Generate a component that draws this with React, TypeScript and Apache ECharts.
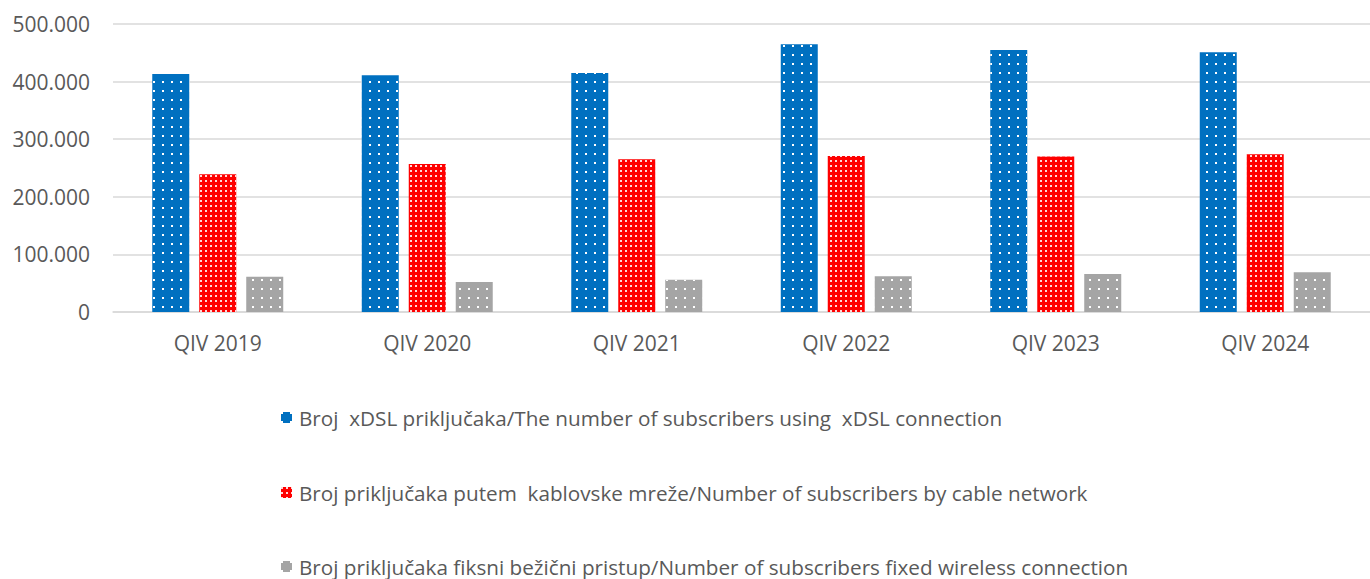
import React, { useEffect, useRef } from "react";
import * as echarts from "echarts";

const categories = ["QIV 2019", "QIV 2020", "QIV 2021", "QIV 2022", "QIV 2023", "QIV 2024"];
const xdsl = [413000, 411000, 415000, 465000, 455000, 451000];
const cable = [239000, 257000, 265000, 271000, 270000, 274000];
const wireless = [61000, 52000, 56000, 62000, 66000, 69000];
const seriesNames = [
  "Broj  xDSL priključaka/The number of subscribers using  xDSL connection",
  "Broj priključaka putem  kablovske mreže/Number of subscribers by cable network",
  "Broj priključaka fiksni bežični pristup/Number of subscribers fixed wireless connection",
];

const FONT = "Open Sans";
const TEXT = "#595959";
const legendTops = [407, 482, 556];

export default function App() {
  const ref = useRef<HTMLDivElement>(null);
  useEffect(() => {
    const chart = echarts.init(ref.current!, null, { renderer: "svg" });
    const sparse = {
      symbol: "rect",
      symbolSize: 1,
      color: "#ffffff",
      dashArrayX: [2, 6.5],
      dashArrayY: [2, 6.5],
    };
    const dense = {
      symbol: "rect",
      symbolSize: 1,
      color: "rgba(255,255,255,0.85)",
      dashArrayX: [1.6, 2.6],
      dashArrayY: [1.6, 2.6],
    };
    chart.setOption({
      animation: false,
      textStyle: { fontFamily: FONT },
      grid: { left: 113, right: -3, top: 24, bottom: 267, containLabel: false },
      legend: seriesNames.map((n, i) => ({
        orient: "vertical",
        left: 281,
        top: legendTops[i],
        padding: 0,
        itemWidth: 11,
        itemHeight: 11,
        icon: "rect",
        textStyle: { color: TEXT, fontSize: 20.7, fontFamily: FONT, padding: [0, 0, 0, 2] },
        data: [n],
      })),
      xAxis: {
        type: "category",
        data: categories,
        axisTick: { show: false },
        axisLine: { lineStyle: { color: "#D9D9D9", width: 1.5 } },
        axisLabel: { color: TEXT, fontSize: 21, margin: 20, fontFamily: FONT },
      },
      yAxis: {
        type: "value",
        min: 0,
        max: 500000,
        interval: 100000,
        axisLine: { show: false },
        axisTick: { show: false },
        splitLine: { lineStyle: { color: "#D9D9D9", width: 1.5 } },
        axisLabel: {
          color: TEXT,
          fontSize: 21,
          margin: 23,
          fontFamily: FONT,
          formatter: (v: number) =>
            v === 0 ? "0" : String(v).replace(/\B(?=(\d{3})+(?!\d))/g, "."),
        },
      },
      series: [
        {
          name: seriesNames[0],
          type: "bar",
          data: xdsl,
          barWidth: 37,
          barGap: "27%",
          itemStyle: { color: "#0070C0", decal: sparse },
        },
        {
          name: seriesNames[1],
          type: "bar",
          data: cable,
          barWidth: 37,
          barGap: "27%",
          itemStyle: { color: "#FF0000", decal: dense },
        },
        {
          name: seriesNames[2],
          type: "bar",
          data: wireless,
          barWidth: 37,
          barGap: "27%",
          itemStyle: { color: "#A5A5A5", decal: sparse },
        },
      ],
    });
    return () => chart.dispose();
  }, []);
  return (
    <div
      ref={ref}
      style={{ position: "absolute", left: 0, top: 0, width: 1370, height: 579, background: "#fff" }}
    />
  );
}
